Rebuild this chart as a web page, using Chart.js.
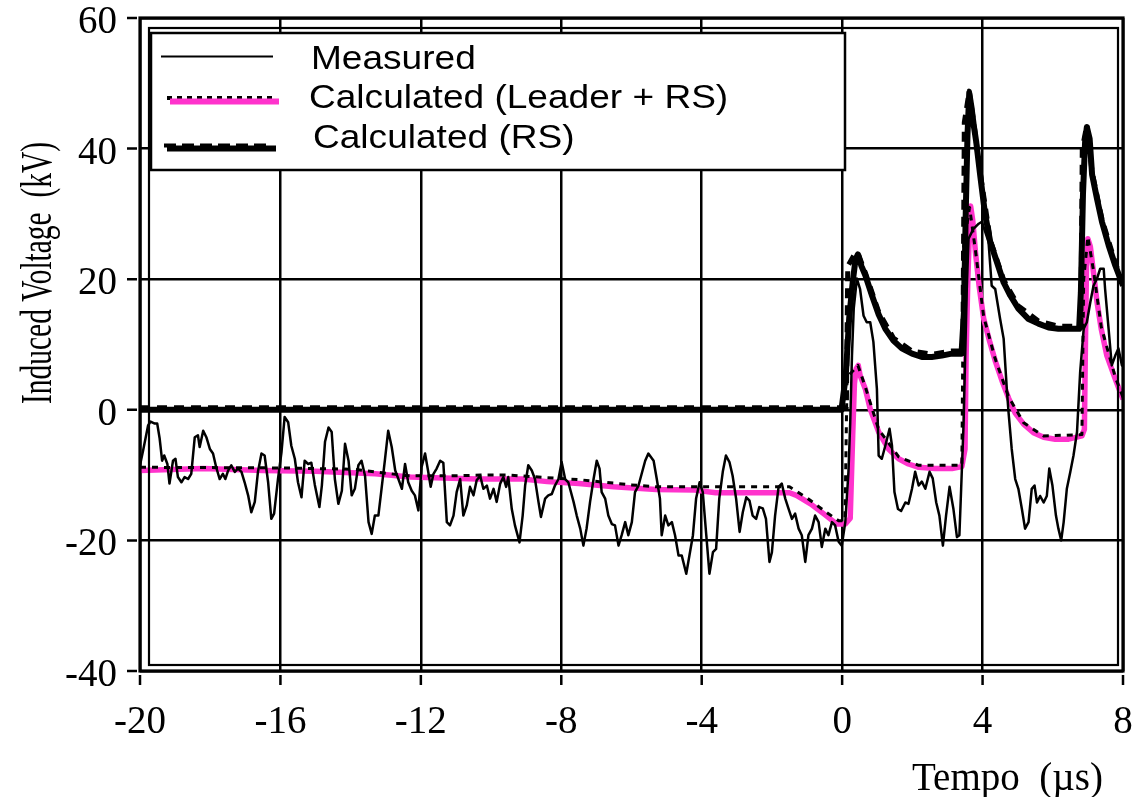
<!DOCTYPE html>
<html lang="en">
<head>
<meta charset="UTF-8" />
<title>Induced Voltage</title>
<script src="https://cdn.jsdelivr.net/npm/chart.js@4"></script>
<style>
  html, body { margin: 0; padding: 0; background: #fff; }
  canvas { display: block; }
</style>
</head>
<body>
<canvas id="myChart" width="1140" height="797"></canvas>
<script>
// axis ticks
const xTicks = [-20, -16, -12, -8, -4, 0, 4, 8];
const yTicks = [60, 40, 20, 0, -20, -40];
const xTitle = "Tempo  (\u00b5s)";
const yTitle = "Induced Voltage  (kV)";
const legendLabels = ["Measured", "Calculated (Leader + RS)", "Calculated (RS)"];

// measured (thin black)
const measuredT = [
  -20.00,-19.91,-19.77,-19.70,-19.58,-19.51,-19.44,-19.37,-19.31,-19.22,
  -19.16,-19.06,-18.99,-18.92,-18.82,-18.73,-18.63,-18.54,-18.44,-18.35,
  -18.30,-18.20,-18.11,-18.01,-17.92,-17.83,-17.73,-17.64,-17.57,-17.49,
  -17.40,-17.30,-17.21,-17.11,-17.02,-16.92,-16.83,-16.73,-16.64,-16.54,
  -16.45,-16.35,-16.26,-16.18,-16.07,-15.97,-15.88,-15.78,-15.69,-15.59,
  -15.50,-15.40,-15.31,-15.21,-15.12,-15.02,
  -14.89,-14.82,-14.73,-14.63,-14.54,-14.45,-14.35,-14.25,-14.16,-14.06,
  -13.97,-13.88,-13.78,-13.69,-13.59,-13.49,-13.40,-13.31,-13.21,-13.12,
  -13.02,-12.93,-12.83,-12.73,-12.64,-12.54,-12.45,-12.36,-12.26,-12.17,
  -12.07,-11.98,-11.88,-11.79,-11.72,-11.64,-11.55,-11.45,-11.36,-11.26,
  -11.17,-11.07,-10.98,-10.88,-10.79,-10.69,-10.60,-10.50,-10.41,-10.31,
  -10.22,
  -10.12,-10.03,-9.93,-9.84,-9.74,-9.65,-9.57,-9.51,-9.41,-9.32,
  -9.19,-9.10,-9.03,-8.94,-8.84,-8.75,-8.65,-8.58,-8.46,-8.37,
  -8.27,-8.18,-8.08,-7.99,-7.89,-7.80,-7.65,-7.56,-7.46,-7.37,
  -7.28,-7.18,-7.08,-6.99,-6.91,-6.85,-6.75,-6.66,-6.56,-6.47,
  -6.37,-6.28,-6.18,-6.09,-5.99,-5.90,-5.80,-5.71,-5.61,-5.52,
  -5.37,-5.28,-5.19,-5.14,-5.04,-4.95,-4.85,-4.76,-4.66,-4.57,
  -4.44,-4.35,-4.25,-4.16,-4.06,-3.97,-3.87,-3.78,-3.68,-3.59,
  -3.50,-3.40,-3.31,-3.21,-3.12,-3.02,-2.92,-2.83,-2.73,-2.64,
  -2.55,-2.45,-2.36,-2.26,-2.17,-2.07,-2.00,-1.91,-1.81,-1.72,
  -1.62,-1.53,-1.43,-1.34,-1.24,-1.15,-1.05,-0.96,-0.86,-0.77,
  -0.67,-0.58,-0.48,-0.39,-0.29,-0.20,-0.10,-0.01,
  0.09,0.18,0.23,0.28,0.33,0.42,0.51,0.61,0.70,0.80,
  0.89,0.99,1.04,1.13,1.23,1.35,1.42,1.49,1.59,1.68,
  1.80,1.89,1.99,2.08,2.18,2.27,2.37,2.49,2.58,2.68,
  2.77,2.87,2.96,3.06,3.17,3.27,3.34,3.39,3.46,3.55,
  3.60,3.74,3.89,3.98,4.17,4.26,4.36,4.50,4.60,4.69,
  4.74,4.83,4.93,5.02,5.12,5.21,5.31,5.40,5.48,5.55,
  5.64,5.74,5.83,5.90,5.99,6.09,6.16,6.24,6.31,6.40,
  6.50,6.59,6.69,6.78,6.88,6.97,7.07,7.16,7.26,7.35,
  7.45,7.49,7.59,7.68,7.78,7.87,7.97,8.00
];
const measuredV = [
  -8.5,-6.2,-2.4,-1.8,-2.1,-2.1,-4.4,-7.8,-7.0,-8.3,
  -11.3,-7.8,-7.5,-10.3,-11.1,-10.3,-10.6,-9.8,-4.2,-3.9,
  -5.7,-3.2,-4.2,-6.0,-6.7,-8.8,-10.6,-9.8,-10.6,-9.3,
  -8.5,-9.5,-9.0,-9.5,-11.1,-13.1,-15.7,-14.1,-9.5,-6.7,
  -7.0,-11.1,-16.7,-15.9,-10.6,-6.5,-1.1,-1.9,-5.5,-7.5,
  -11.1,-13.4,-7.8,-8.3,-8.1,-11.5,
  -14.9,-11.6,-4.9,-2.7,-3.4,-10.6,-14.4,-12.4,-5.2,-7.8,
  -13.1,-12.1,-8.5,-7.8,-10.1,-17.2,-19.0,-16.2,-16.2,-12.1,
  -7.5,-3.2,-5.7,-9.3,-10.6,-12.1,-8.3,-11.1,-12.4,-13.1,
  -15.4,-8.8,-6.7,-9.5,-11.8,-9.8,-9.0,-7.8,-8.1,-17.2,
  -17.7,-16.2,-12.6,-10.6,-16.2,-14.6,-11.8,-13.1,-10.8,-10.1,
  -12.1,
  -11.6,-13.6,-12.1,-14.1,-11.3,-10.3,-11.8,-10.3,-15.2,-17.7,
  -20.3,-16.2,-11.6,-8.5,-9.3,-10.6,-14.1,-16.4,-13.6,-13.1,
  -12.9,-11.6,-10.6,-8.0,-10.6,-11.1,-14.1,-16.2,-18.2,-20.8,
  -18.2,-14.1,-10.6,-7.8,-9.0,-12.6,-13.6,-16.2,-17.5,-17.7,
  -20.8,-19.2,-17.2,-19.2,-17.2,-12.6,-11.6,-9.8,-7.8,-6.7,
  -7.8,-10.6,-13.6,-19.2,-16.2,-17.7,-17.2,-19.2,-22.3,-22.3,
  -25.1,-22.3,-19.2,-13.6,-11.1,-12.6,-19.2,-25.1,-21.8,-21.3,
  -13.6,-9.5,-7.0,-8.0,-10.1,-13.6,-18.7,-15.7,-13.4,-13.9,
  -16.2,-16.7,-14.9,-15.1,-16.7,-23.3,-21.8,-16.2,-11.8,-11.3,
  -13.6,-15.1,-16.7,-15.9,-18.2,-19.2,-23.3,-19.2,-18.2,-16.2,
  -17.2,-21.0,-18.2,-19.2,-17.2,-17.7,-20.2,-20.8,
  -17.2,-9.5,-2.0,8.3,15.5,20.1,18.5,14.4,13.4,13.4,
  10.4,3.2,-7.0,-7.5,-5.5,-2.9,-5.5,-12.6,-15.2,-15.5,
  -14.2,-14.4,-12.1,-9.5,-11.6,-11.0,-12.1,-9.5,-10.5,-14.2,
  -16.2,-20.8,-16.2,-11.8,-15.2,-19.5,-19.2,-12.1,-2.0,18.5,
  26.2,27.7,28.5,28.8,25.7,19.0,18.5,13.9,10.9,3.2,
  -0.4,-6.0,-10.6,-12.1,-15.2,-18.2,-17.2,-12.1,-11.6,-14.2,
  -13.2,-14.2,-13.2,-9.0,-11.6,-16.2,-18.2,-20.0,-17.2,-12.1,
  -9.5,-7.0,-3.4,5.8,12.4,13.4,16.5,19.0,20.1,21.6,
  21.6,18.5,12.4,6.8,8.3,9.4,6.8,8.0
];

// calculated (leader + RS), magenta
const leaderT = [
  -20, -18.2, -16.5, -15.0, -13.3, -12.3, -10.4, -9.1, -8.4, -7.5,
  -6.5, -5.3, -4.2, -3.6, -1.5, -1.3, -0.9, -0.53, -0.15, 0.09,
  0.23, 0.30, 0.35, 0.40, 0.46, 0.51, 0.66, 0.80, 1.04, 1.32,
  1.61, 1.89, 2.18, 2.65, 3.13, 3.41, 3.50, 3.53, 3.58, 3.63,
  3.66, 3.72, 3.80, 3.90, 4.03, 4.20, 4.36, 4.55, 4.74, 4.93,
  5.17, 5.45, 5.74, 6.07, 6.45, 6.83, 6.90, 6.93, 6.96, 7.00,
  7.07, 7.16, 7.26, 7.38, 7.54, 7.78, 8.00
];
const leaderV = [
  -9.3, -9.0, -9.3, -9.4, -9.8, -10.3, -10.6, -10.6, -11.0, -11.3,
  -11.8, -12.2, -12.3, -12.7, -12.7, -13.1, -14.4, -15.9, -17.5, -17.5,
  -16.6, -4.0, 4.0, 6.3, 6.8, 5.3, 3.2, 0.1, -3.4, -6.0,
  -7.5, -8.3, -8.8, -9.0, -9.0, -8.7, -6.0, 8.0, 20.0, 28.0,
  31.2, 29.0, 24.0, 19.0, 14.0, 10.5, 7.5, 4.5, 1.8, -0.5,
  -2.2, -3.5, -4.2, -4.5, -4.5, -4.0, -3.0, 10.0, 22.0, 26.2,
  25.0, 21.0, 16.5, 12.4, 8.3, 4.7, 1.6
];

// black dotted companion of the leader curve
const dottedT = [
  -20, -16, -15.0, -13.9, -12.4, -11.0, -10.3, -9.5, -7.5, -6.0,
  -5.3, -3.0, -1.5, -1.0, -0.5, -0.1, 0.08, 0.14, 0.45, 0.66,
  1.04, 1.61, 2.18, 3.41, 3.46, 3.63, 3.80, 4.03, 4.36, 4.74,
  5.17, 5.74, 6.83, 6.88, 7.00, 7.16, 7.38, 7.78, 8.00
];
const dottedV = [
  -8.8, -8.9, -9.0, -9.1, -10.1, -10.1, -10.0, -10.0, -10.7, -11.5,
  -11.8, -11.8, -11.8, -13.5, -15.5, -17.0, -17.0, 5.0, 6.8, 3.5,
  -3.0, -7.2, -8.5, -8.5, 25.0, 31.0, 24.3, 14.3, 7.8, 2.0,
  -2.0, -4.0, -3.8, 20.0, 26.5, 21.3, 12.7, 5.0, 1.9
];

// calculated (RS), thick black
const rsT = [
  -20, -0.02, 0.10, 0.20, 0.30, 0.38, 0.45, 0.55, 0.66, 0.85,
  1.04, 1.23, 1.46, 1.70, 1.99, 2.27, 2.55, 2.84, 3.12, 3.40,
  3.47, 3.52, 3.57, 3.62, 3.68, 3.75, 3.82, 3.93, 4.07, 4.22,
  4.41, 4.60, 4.79, 5.02, 5.31, 5.59, 5.88, 6.16, 6.45, 6.75,
  6.80, 6.86, 6.92, 6.97, 7.05, 7.12, 7.26, 7.40, 7.59, 7.78,
  8.00
];
const rsV = [
  0, 0, 5, 14, 19.5, 23, 23.8, 22, 20.6, 17.5,
  14.6, 12.4, 10.6, 9.4, 8.6, 8.1, 8.1, 8.3, 8.6, 8.6,
  15, 30, 42, 48.5, 46.5, 43.5, 41, 36, 30, 25.7,
  22.6, 19.5, 17.5, 15.5, 13.9, 13.2, 12.6, 12.4, 12.4, 12.4,
  18, 33, 41, 43.3, 41.5, 36, 32.3, 28.8, 25.2, 22.1,
  19.0
];

// dashed companion of the RS curve
const rsDashT = [
  -20, 0.12, 0.16, 0.35, 0.45, 0.66, 1.04, 1.46, 1.99, 2.55,
  3.12, 3.44, 3.48, 3.62, 3.75, 3.93, 4.22, 4.60, 5.02, 5.59,
  6.16, 6.80, 6.84, 6.97, 7.12, 7.40, 7.78, 8.00
];
const rsDashV = [
  0.3, 0.3, 22, 23.8, 24, 21, 15, 11, 9, 8.5,
  9, 9, 44, 48.8, 44, 36.4, 26, 19.9, 15.9, 13.6,
  12.8, 12.8, 40, 43.6, 36.4, 29.2, 22.5, 19.4
];

function pts(xs, ys) {
  const n = Math.min(xs.length, ys.length);
  const out = [];
  for (let i = 0; i < n; i++) out.push({ x: xs[i], y: ys[i] });
  return out;
}

const MAGENTA = "#ff33cc";

// frame, ticks, labels, titles and the boxed legend
const decor = {
  id: "decor",
  afterDraw(chart) {
    const ctx = chart.ctx;
    const a = chart.chartArea;
    const sx = chart.scales.x, sy = chart.scales.y;
    ctx.save();
    ctx.strokeStyle = "#000";
    ctx.fillStyle = "#000";

    // double frame
    ctx.lineWidth = 3.2;
    ctx.strokeRect(a.left, a.top, a.right - a.left, a.bottom - a.top);
    ctx.lineWidth = 2.2;
    ctx.strokeRect(a.left + 9, a.top + 10, a.right - a.left - 14, a.bottom - a.top - 16);

    // detached tick marks
    ctx.lineWidth = 2.5;
    ctx.beginPath();
    xTicks.forEach(v => {
      const px = sx.getPixelForValue(v);
      ctx.moveTo(px, a.bottom + 4);
      ctx.lineTo(px, a.bottom + 14);
    });
    yTicks.forEach(v => {
      const py = sy.getPixelForValue(v);
      ctx.moveTo(a.left - 13, py);
      ctx.lineTo(a.left - 3, py);
    });
    ctx.stroke();

    // tick labels
    ctx.font = "39px 'Liberation Serif'";
    ctx.textBaseline = "alphabetic";
    ctx.textAlign = "center";
    xTicks.forEach(v => ctx.fillText(String(v), sx.getPixelForValue(v), a.bottom + 62));
    ctx.textAlign = "right";
    yTicks.forEach(v => ctx.fillText(String(v), a.left - 23, sy.getPixelForValue(v) + 15));

    // axis titles
    ctx.textAlign = "left";
    ctx.fillText(xTitle, 912, 790);
    ctx.save();
    ctx.translate(51, 273);
    ctx.rotate(-Math.PI / 2);
    ctx.font = "44px 'Liberation Serif'";
    const w = ctx.measureText(yTitle).width;
    ctx.scale(262 / w, 1);
    ctx.textAlign = "center";
    ctx.fillText(yTitle, 0, 0);
    ctx.restore();

    // legend box
    ctx.fillStyle = "#fff";
    ctx.fillRect(151, 33, 694, 137);
    ctx.lineWidth = 2.5;
    ctx.strokeRect(151, 33, 694, 137);

    const seg = (x1, x2, y, width, color, dash) => {
      ctx.beginPath();
      ctx.setLineDash(dash || []);
      ctx.lineWidth = width;
      ctx.strokeStyle = color;
      ctx.moveTo(x1, y);
      ctx.lineTo(x2, y);
      ctx.stroke();
      ctx.setLineDash([]);
    };
    seg(161, 273, 56.5, 2.2, "#000");
    seg(167, 277, 98, 4, "#000", [5, 5]);
    seg(170, 279, 101.5, 6, MAGENTA);
    seg(167, 276, 148.5, 6, "#000");
    seg(164, 267, 145.5, 4, "#000", [12, 6]);

    ctx.fillStyle = "#000";
    ctx.font = "34px 'Liberation Sans'";
    ctx.textAlign = "left";
    const legendPos = [[311, 69], [309, 108], [313, 148]];
    legendLabels.forEach((t, i) => {
      ctx.save();
      ctx.translate(legendPos[i][0], legendPos[i][1]);
      ctx.scale(1.09, 1);
      ctx.fillText(t, 0, 0);
      ctx.restore();
    });
    ctx.restore();
  }
};

const ctx = document.getElementById("myChart").getContext("2d");
const chart = new Chart(ctx, {
  type: "line",
  data: {
    datasets: [
      {
        label: legendLabels[0],
        data: pts(measuredT, measuredV),
        borderColor: "#000",
        borderWidth: 2.5
      },
      {
        label: "RS dashed",
        data: pts(rsDashT, rsDashV),
        borderColor: "#000",
        borderWidth: 5,
        borderDash: [10, 7]
      },
      {
        label: legendLabels[2],
        data: pts(rsT, rsV),
        borderColor: "#000",
        borderWidth: 6
      },
      {
        label: "Leader dotted",
        data: pts(dottedT, dottedV),
        borderColor: "#000",
        borderWidth: 3,
        borderDash: [6, 6]
      },
      {
        label: legendLabels[1],
        data: pts(leaderT, leaderV),
        borderColor: MAGENTA,
        borderWidth: 5.5
      }
    ]
  },
  options: {
    responsive: false,
    animation: false,
    events: [],
    elements: {
      point: { radius: 0 },
      line: { tension: 0, fill: false, borderCapStyle: "butt", borderJoinStyle: "round" }
    },
    layout: { padding: { left: 140, top: 18, right: 17, bottom: 126 } },
    plugins: {
      legend: { display: false },
      tooltip: { enabled: false },
      title: { display: false }
    },
    scales: {
      x: {
        type: "linear",
        min: -20,
        max: 8,
        ticks: { display: false, stepSize: 4 },
        grid: { color: "#000", lineWidth: 2.5, drawTicks: false },
        border: { display: false },
        afterFit(scale) { scale.height = 0; }
      },
      y: {
        type: "linear",
        min: -40,
        max: 60,
        ticks: { display: false, stepSize: 20 },
        grid: { color: "#000", lineWidth: 2.5, drawTicks: false },
        border: { display: false },
        afterFit(scale) { scale.width = 0; }
      }
    }
  },
  plugins: [decor]
});
</script>
</body>
</html>
